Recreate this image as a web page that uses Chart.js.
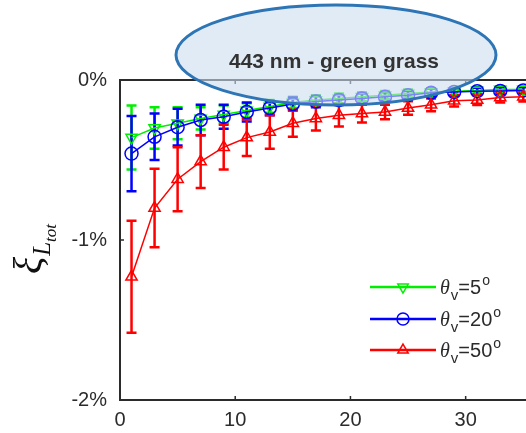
<!DOCTYPE html>
<html>
<head>
<meta charset="utf-8">
<script src="https://cdn.jsdelivr.net/npm/chart.js@4.4.1/dist/chart.umd.min.js"></script>
<style>
    html, body { margin: 0; padding: 0; background: #fff; overflow: hidden; width: 526px; height: 433px; }
    #wrap { position: absolute; left: 0; top: 0; width: 600px; height: 433px; }
</style>
</head>
<body>
<div id="wrap"><canvas id="chart" width="600" height="433"></canvas></div>
<script>
// x positions of the samples
const xValues = [1, 3, 5, 7, 9, 11, 13, 15, 17, 19, 21, 23, 25, 27, 29, 31, 33, 35];

// theta_v = 5 deg (green)
const green5 = [-0.36, -0.30, -0.27, -0.24, -0.215, -0.19, -0.165, -0.14, -0.125, -0.115, -0.105, -0.095, -0.085, -0.075, -0.07, -0.065, -0.06, -0.06];
const green5Err = [0.20, 0.13, 0.10, 0.07, 0.055, 0.045, 0.04, 0.035, 0.03, 0.03, 0.028, 0.026, 0.025, 0.024, 0.022, 0.02, 0.02, 0.02];

// theta_v = 20 deg (blue)
const blue20 = [-0.46, -0.355, -0.295, -0.25, -0.23, -0.20, -0.175, -0.15, -0.135, -0.125, -0.115, -0.105, -0.095, -0.08, -0.075, -0.07, -0.068, -0.065];
const blue20Err = [0.235, 0.145, 0.115, 0.095, 0.075, 0.06, 0.045, 0.04, 0.035, 0.032, 0.03, 0.028, 0.026, 0.025, 0.024, 0.022, 0.022, 0.02];

// theta_v = 50 deg (red)
const red50 = [-1.23, -0.80, -0.62, -0.51, -0.42, -0.36, -0.325, -0.27, -0.24, -0.22, -0.21, -0.20, -0.175, -0.155, -0.13, -0.125, -0.11, -0.105];
const red50Err = [0.35, 0.245, 0.20, 0.165, 0.14, 0.115, 0.105, 0.085, 0.075, 0.07, 0.055, 0.045, 0.042, 0.04, 0.035, 0.032, 0.03, 0.03];

const seriesAngles = ['5', '20', '50'];
const xTicks = [0, 10, 20, 30, 40];
const yTicks = [-2, -1, 0];
const titleText = '443 nm - green grass';

const TEXT_COLOR = '#2b2b2b';
const AXIS_COLOR = '#2b2b2b';

const series = [
    { name: seriesAngles[0], values: green5, errors: green5Err, color: '#00ee00', style: 'triangle', rotation: 180, order: 3 },
    { name: seriesAngles[1], values: blue20, errors: blue20Err, color: '#0000ff', style: 'circle', rotation: 0, order: 2 },
    { name: seriesAngles[2], values: red50, errors: red50Err, color: '#ff0000', style: 'triangle', rotation: 0, order: 1 }
];

const datasets = series.map(function(s) {
    return {
        label: s.name,
        data: xValues.map(function(x, i) { return { x: x, y: s.values[i] }; }),
        errors: s.errors,
        borderColor: s.color,
        borderWidth: 1.5,
        pointStyle: s.style,
        pointRotation: s.rotation,
        pointRadius: 6.5,
        pointBorderWidth: 1.5,
        pointBorderColor: s.color,
        pointBackgroundColor: 'rgba(0,0,0,0)',
        tension: 0,
        fill: false,
        order: s.order
    };
});

// Error bars, drawn below the lines and markers
const errorBars = {
    id: 'errorBars',
    beforeDatasetsDraw(chart) {
        const ctx = chart.ctx;
        const xs = chart.scales.x, ys = chart.scales.y;
        ctx.save();
        chart.data.datasets.forEach(function(ds) {
            ctx.strokeStyle = ds.borderColor;
            ctx.lineWidth = 2.5;
            ds.data.forEach(function(p, i) {
                const e = ds.errors[i];
                const px = xs.getPixelForValue(p.x);
                const top = ys.getPixelForValue(p.y + e);
                const bot = ys.getPixelForValue(p.y - e);
                ctx.beginPath();
                ctx.moveTo(px, top); ctx.lineTo(px, bot);
                ctx.moveTo(px - 5, top); ctx.lineTo(px + 5, top);
                ctx.moveTo(px - 5, bot); ctx.lineTo(px + 5, bot);
                ctx.stroke();
            });
        });
        ctx.restore();
    }
};

// Box, inward ticks, axis title, legend and the callout
const decorations = {
    id: 'decorations',
    afterDraw(chart) {
        const ctx = chart.ctx;
        const a = chart.chartArea;
        const xs = chart.scales.x, ys = chart.scales.y;
        ctx.save();

        // frame
        ctx.strokeStyle = AXIS_COLOR;
        ctx.lineWidth = 2;
        ctx.strokeRect(a.left, a.top, a.right - a.left, a.bottom - a.top);

        // inward tick marks
        ctx.lineWidth = 1.5;
        ctx.beginPath();
        xTicks.forEach(function(t) {
            const px = xs.getPixelForValue(t);
            if (px <= a.left + 1 || px >= a.right - 1) return;
            ctx.moveTo(px, a.bottom); ctx.lineTo(px, a.bottom - 4);
            ctx.moveTo(px, a.top); ctx.lineTo(px, a.top + 4);
        });
        yTicks.forEach(function(t) {
            const py = ys.getPixelForValue(t);
            if (py <= a.top + 1 || py >= a.bottom - 1) return;
            ctx.moveTo(a.left, py); ctx.lineTo(a.left + 4, py);
            ctx.moveTo(a.right, py); ctx.lineTo(a.right - 4, py);
        });
        ctx.stroke();

        // y axis title: xi with subscript L_tot, rotated
        ctx.save();
        ctx.translate(41, 274);
        ctx.rotate(-Math.PI / 2);
        ctx.fillStyle = '#111';
        ctx.textBaseline = 'alphabetic';
        ctx.textAlign = 'left';
        ctx.font = 'italic 40px "Liberation Serif"';
        ctx.fillText('\u03BE', 0, 0);
        let w = ctx.measureText('\u03BE').width + 1;
        ctx.font = 'italic 25px "Liberation Serif"';
        ctx.fillText('L', w, 9);
        w += ctx.measureText('L').width;
        ctx.font = 'italic 17px "Liberation Serif"';
        ctx.fillText('tot', w, 15);
        ctx.restore();

        // legend
        const rows = [287, 319, 350];
        chart.data.datasets.forEach(function(ds, i) {
            const y = rows[i];
            ctx.strokeStyle = ds.borderColor;
            ctx.lineWidth = 2.5;
            ctx.beginPath();
            ctx.moveTo(370, y); ctx.lineTo(436, y);
            ctx.stroke();
            ctx.lineWidth = 1.5;
            ctx.fillStyle = 'rgba(0,0,0,0)';
            Chart.helpers.drawPoint(ctx, {
                pointStyle: ds.pointStyle, rotation: ds.pointRotation,
                radius: 6, borderWidth: 1.5
            }, 403, y);

            ctx.fillStyle = TEXT_COLOR;
            ctx.textAlign = 'left';
            ctx.textBaseline = 'alphabetic';
            let tx = 440;
            const base = y + 7;
            ctx.font = 'italic 20px "Liberation Serif"';
            ctx.fillText('\u03B8', tx, base);
            tx += ctx.measureText('\u03B8').width + 1;
            ctx.font = '15px "Liberation Sans"';
            ctx.fillText('v', tx, base + 6);
            tx += ctx.measureText('v').width;
            ctx.font = '20px "Liberation Sans"';
            const txt = '=' + ds.label;
            ctx.fillText(txt, tx, base);
            tx += ctx.measureText(txt).width + 1;
            ctx.font = '14px "Liberation Sans"';
            ctx.fillText('o', tx, base - 9);
        });

        // callout ellipse
        ctx.beginPath();
        ctx.ellipse(336, 55, 160, 50, 0, 0, Math.PI * 2);
        ctx.fillStyle = 'rgba(205,222,240,0.6)';
        ctx.fill();
        ctx.strokeStyle = '#2e75b6';
        ctx.lineWidth = 3;
        ctx.stroke();
        ctx.fillStyle = '#333';
        ctx.font = 'bold 21px "Liberation Sans"';
        ctx.textAlign = 'center';
        ctx.textBaseline = 'middle';
        ctx.fillText(titleText, 334, 62);

        ctx.restore();
    }
};

const config = {
    type: 'line',
    data: { datasets: datasets },
    options: {
        responsive: false,
        animation: false,
        devicePixelRatio: 1,
        layout: { padding: { top: 80, right: 13, left: 0, bottom: 0 } },
        plugins: {
            legend: { display: false },
            tooltip: { enabled: false }
        },
        scales: {
            x: {
                type: 'linear',
                min: 0,
                max: 40,
                grid: { display: false, drawTicks: false },
                border: { display: false },
                afterBuildTicks: function(s) { s.ticks = xTicks.map(function(v) { return { value: v }; }); },
                afterFit: function(s) { s.height = 33; },
                ticks: {
                    autoSkip: false,
                    maxRotation: 0,
                    padding: 8,
                    color: TEXT_COLOR,
                    font: { family: 'Liberation Sans', size: 20 }
                }
            },
            y: {
                type: 'linear',
                min: -2,
                max: 0,
                grid: { display: false, drawTicks: false },
                border: { display: false },
                afterBuildTicks: function(s) { s.ticks = yTicks.map(function(v) { return { value: v }; }); },
                afterFit: function(s) { s.width = 120; },
                ticks: {
                    padding: 13,
                    color: TEXT_COLOR,
                    font: { family: 'Liberation Sans', size: 20 },
                    callback: function(v) { return v + '%'; }
                }
            }
        }
    },
    plugins: [errorBars, decorations]
};

new Chart(document.getElementById('chart').getContext('2d'), config);
</script>
</body>
</html>
